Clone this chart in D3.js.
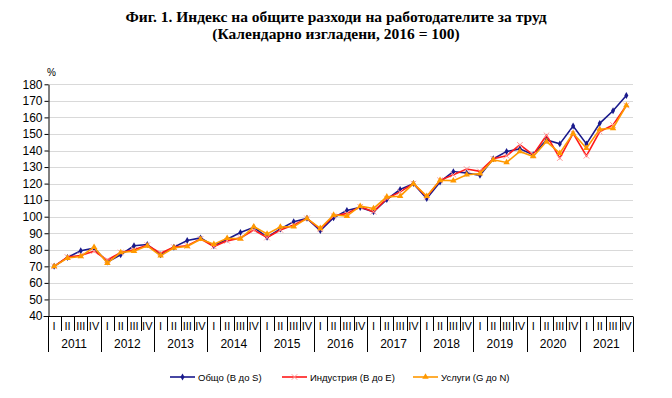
<!DOCTYPE html>
<html>
<head>
<meta charset="utf-8">
<script src="https://cdn.jsdelivr.net/npm/d3@7"></script>
<style>
  body { margin: 0; background: #fff; }
  svg { display: block; }
</style>
</head>
<body>
<div class="graph"></div>
<script>
var years = ["2011", "2012", "2013", "2014", "2015", "2016", "2017", "2018", "2019", "2020", "2021"];
var quarters = ["I", "II", "III", "IV"];
var yTicks = [40, 50, 60, 70, 80, 90, 100, 110, 120, 130, 140, 150, 160, 170, 180];

// Общо (B до S)
var total = [70, 75.4, 79.4, 81, 72.6, 77, 82.4, 83.2, 77, 81.6, 85.6, 87.2,
  82.4, 86.4, 90.4, 93.6, 87.6, 92.6, 97, 99, 91.6, 99.4, 103.8, 105.6,
  103, 110.4, 116.4, 120, 111, 121, 127.2, 126.4, 125, 135, 139.4, 141,
  137.4, 146.4, 144, 154.8, 144, 156.4, 164, 173.2];
// Индустрия (B до E)
var industry = [70, 75.6, 76.6, 79.2, 73.8, 78.4, 80, 82.8, 78, 81.6, 82.4, 86.6,
  82, 85.4, 87.2, 92, 87.4, 92, 95, 99, 92.4, 100.4, 102, 106,
  103, 111, 115, 120, 112, 122, 125.4, 128.8, 127.4, 135, 136.8, 143.4,
  137.4, 149.2, 135.4, 150.4, 136.8, 151.4, 155.4, 167.2];
// Услуги (G до N)
var services = [70, 75, 76, 81.6, 72, 78.4, 79.2, 82.4, 76.4, 81.2, 82, 86.4,
  83.4, 87, 86.6, 94, 89.6, 93.8, 94, 99, 93, 101, 100.4, 106.4,
  105, 112, 112.4, 120, 112.4, 122, 121.8, 125.4, 126, 134.4, 132.8, 139.4,
  136.4, 145.4, 138.4, 150.4, 141.4, 152.8, 153.4, 167.2];

var seriesNames = ["Общо (B до S)", "Индустрия (B до E)", "Услуги (G до N)"];

var width = 672;
var height = 398;
var plotLeft = 47.5, plotRight = 633, plotTop = 84.3, plotBottom = 316;

var svg = d3.select(".graph").append("svg")
  .attr("width", width)
  .attr("height", height)
  .style("font-family", "'Liberation Sans', Arial, sans-serif");

// title
var title = svg.append("text")
  .attr("x", 336)
  .attr("text-anchor", "middle")
  .style("font-family", "'Liberation Serif', 'Times New Roman', serif")
  .style("font-weight", "bold")
  .style("font-size", "15.5px")
  .attr("fill", "#000");
title.append("tspan").attr("x", 336).attr("y", 22)
  .text("Фиг. 1. Индекс на общите разходи на работодателите за труд");
title.append("tspan").attr("x", 336).attr("y", 39)
  .text("(Календарно изгладени, 2016 = 100)");

var idx = d3.range(years.length * quarters.length);

var x = d3.scaleBand()
  .domain(idx)
  .range([plotLeft, plotRight]);

var y = d3.scaleLinear()
  .domain([40, 180])
  .range([plotBottom, plotTop]);

// gridlines
svg.append("g")
  .selectAll("line")
  .data(yTicks.slice(1))
  .enter().append("line")
  .attr("x1", plotLeft).attr("x2", plotRight)
  .attr("y1", d => Math.round(y(d)) + 0.5)
  .attr("y2", d => Math.round(y(d)) + 0.5)
  .attr("stroke", "#d9d9d9")
  .attr("stroke-width", 1);

// y axis
var yAxis = d3.axisLeft(y).tickValues(yTicks).tickSize(4).tickSizeOuter(0);
var yAxisGroup = svg.append("g")
  .attr("transform", "translate(" + (Math.round(plotLeft) + 0.5) + ",0)")
  .call(yAxis);
yAxisGroup.select(".domain").attr("stroke", "#000");
yAxisGroup.selectAll(".tick line").attr("stroke", "#000");
yAxisGroup.selectAll(".tick text")
  .attr("x", -6)
  .style("font-size", "12px")
  .style("font-family", "'Liberation Sans', Arial, sans-serif")
  .attr("fill", "#000");

svg.append("text")
  .attr("x", 47).attr("y", 76)
  .style("font-size", "10px")
  .text("%");

// x axis
var axisY = Math.round(y(40)) + 0.5;
svg.append("line")
  .attr("x1", plotLeft - 4).attr("x2", plotRight)
  .attr("y1", axisY).attr("y2", axisY)
  .attr("stroke", "#000");

var xg = svg.append("g");
// separators between quarters
xg.selectAll("line.q")
  .data(d3.range(idx.length + 1))
  .enter().append("line")
  .attr("class", "q")
  .attr("x1", d => Math.round(plotLeft + d * x.step()) + 0.5)
  .attr("x2", d => Math.round(plotLeft + d * x.step()) + 0.5)
  .attr("y1", axisY)
  .attr("y2", d => d % 4 === 0 ? 352 : 331)
  .attr("stroke", "#000");

xg.selectAll("text.q")
  .data(idx)
  .enter().append("text")
  .attr("class", "q")
  .attr("x", d => x(d) + x.bandwidth() / 2)
  .attr("y", 330)
  .attr("text-anchor", "middle")
  .style("font-size", "11px")
  .text(d => quarters[d % 4]);

xg.selectAll("text.y")
  .data(years)
  .enter().append("text")
  .attr("class", "y")
  .attr("x", (d, i) => plotLeft + (i * 4 + 2) * x.step())
  .attr("y", 348)
  .attr("text-anchor", "middle")
  .style("font-size", "12px")
  .text(d => d);

// lines
var cx = i => x(i) + x.bandwidth() / 2;
var line = d3.line()
  .x((d, i) => cx(i))
  .y(d => y(d));

var colors = ["#1a1a8c", "#ff1a1a", "#ff9900"];
var allSeries = [total, industry, services];

var diamond = d3.symbol().type(d3.symbolDiamond).size(14);
var cross = d3.symbol().type(d3.symbolX).size(22);
var tri = d3.symbol().type(d3.symbolTriangle).size(18);

function drawMarker(g, k) {
  if (k === 0) {
    g.append("path").attr("d", diamond).attr("fill", colors[0]);
  } else if (k === 1) {
    g.append("path").attr("d", cross).attr("fill", "none")
      .attr("stroke", "#ff9a9a").attr("stroke-width", 1);
  } else {
    g.append("path").attr("d", tri).attr("fill", colors[2]);
  }
}

allSeries.forEach(function (data, k) {
  svg.append("path")
    .datum(data)
    .attr("fill", "none")
    .attr("stroke", colors[k])
    .attr("stroke-width", 1.6)
    .attr("d", line);
  data.forEach(function (v, i) {
    var g = svg.append("g")
      .attr("transform", "translate(" + cx(i) + "," + y(v) + ")");
    drawMarker(g, k);
  });
});

// legend
var legendX = [170, 282, 413];
seriesNames.forEach(function (name, k) {
  var g = svg.append("g").attr("transform", "translate(" + legendX[k] + ",377)");
  g.append("line")
    .attr("x1", 0).attr("x2", 25)
    .attr("y1", 0).attr("y2", 0)
    .attr("stroke", colors[k])
    .attr("stroke-width", 1.6);
  var m = g.append("g").attr("transform", "translate(12.5,0)");
  drawMarker(m, k);
  g.append("text")
    .attr("x", 28).attr("y", 3.5)
    .style("font-size", "9.5px")
    .text(name);
});
</script>
</body>
</html>
